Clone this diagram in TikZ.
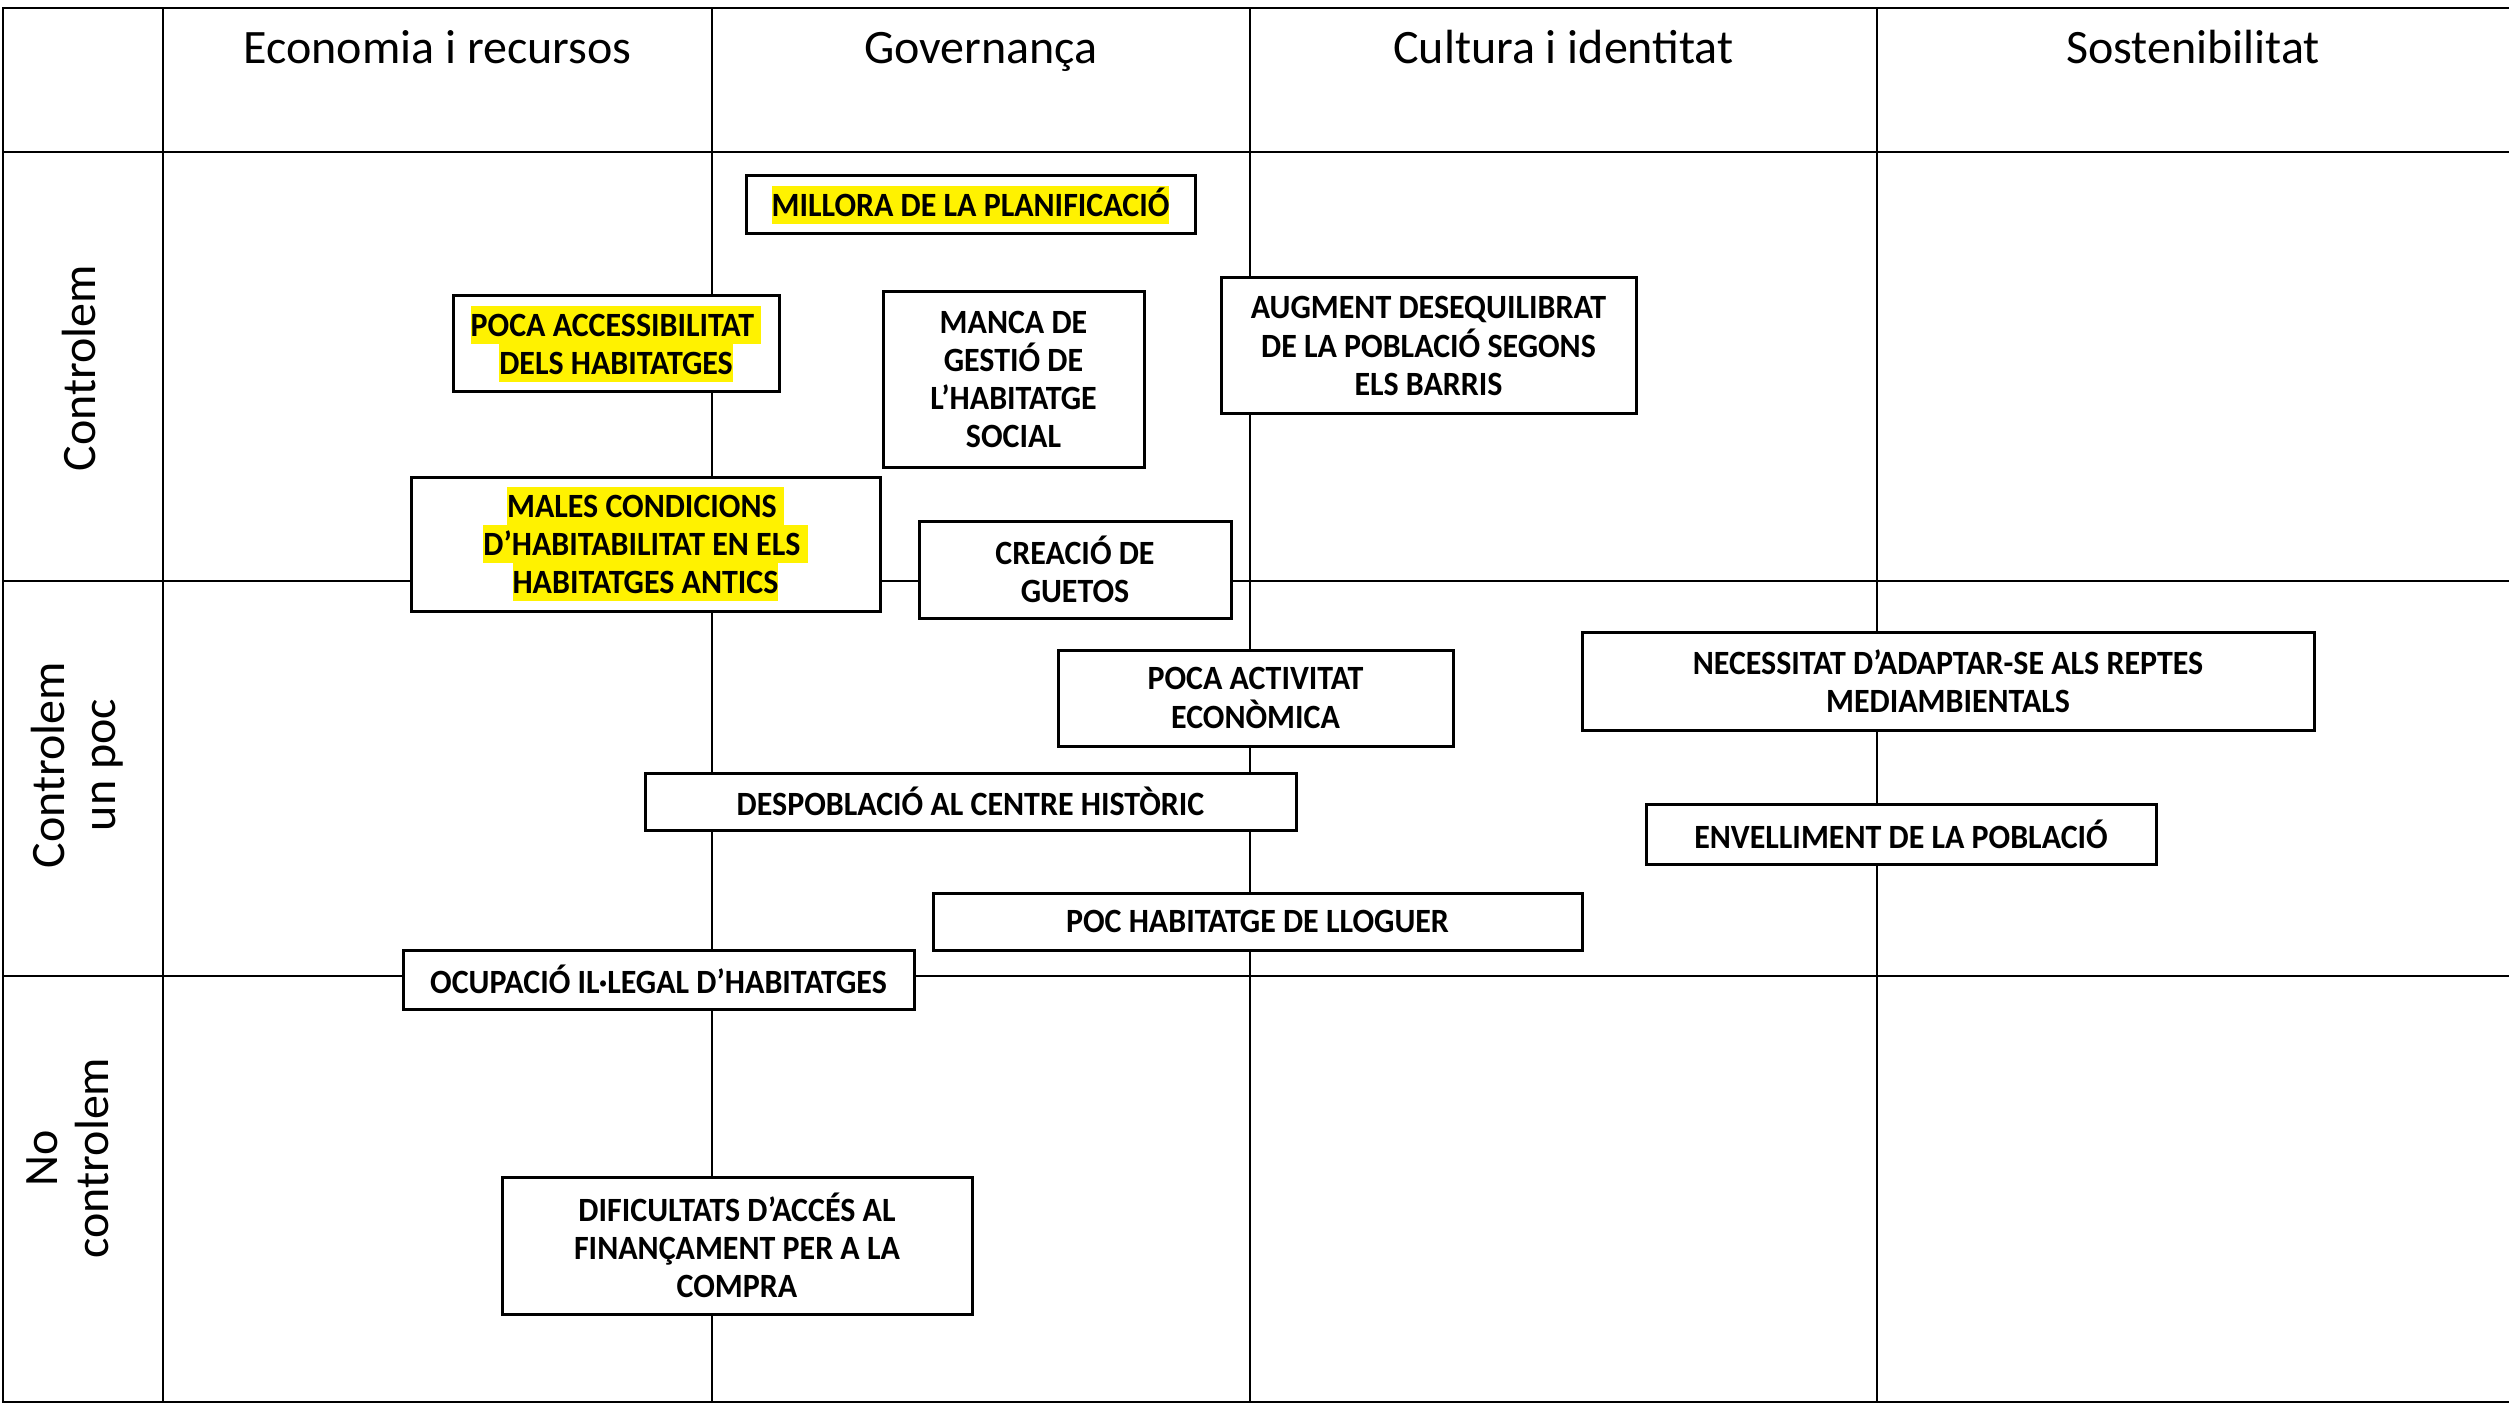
\documentclass[tikz,border=0pt]{standalone}
\usepackage{fontspec}
\setmainfont{Carlito}
\newfontfamily\issuefont{Carlito}[FakeStretch=0.94]
\newcommand\hlt[1]{{\setlength{\fboxsep}{0pt}\colorbox{yellow}{\rule[-7.8pt]{0pt}{38.3pt}#1}}}
\tikzset{
  gridline/.style={line width=2.4pt, black},
  issue/.style={draw=black, line width=3pt, fill=white, inner sep=0pt, align=center,
    font={\issuefont\fontsize{34}{38.3}\selectfont\bfseries\lineskiplimit=-3pt}},
  head/.style={font={\fontsize{48}{57}\selectfont}, anchor=base, inner sep=0pt},
  rowlab/.style={font={\fontsize{48}{51}\selectfont}, rotate=90, align=center, inner sep=0pt},
}
\begin{document}
\begin{tikzpicture}[x=1pt,y=-1pt]
\useasboundingbox (0,0) rectangle (2509,1404);
\fill[white] (0,0) rectangle (2509,1404);
% grid
\draw[gridline] (2509,8) -- (3,8) -- (3,1402) -- (2509,1402);
\draw[gridline] (3,152) -- (2509,152);
\draw[gridline] (3,581) -- (2509,581);
\draw[gridline] (3,976) -- (2509,976);
\draw[gridline] (163,8) -- (163,1402);
\draw[gridline] (712,8) -- (712,1402);
\draw[gridline] (1250,8) -- (1250,1402);
\draw[gridline] (1877,8) -- (1877,1402);
% headers
\node[head] (h1) at (437.5,64) {Economia i recursos};
\node[head] (h2) at (981,64) {Governança};
\node[head] (h3) at (1563.5,64) {Cultura i identitat};
\node[head] (h4) at (2193,64) {Sostenibilitat};
% row labels
\node[rowlab] (r1) at (79,368) {Controlem};
\node[rowlab] (r2) at (77,765) {Controlem\\un poc};
\node[rowlab] (r3) at (68,1158) {No\\controlem};
% issues
\node[issue, minimum width=449pt, minimum height=58pt] (millora) at (970.5,205) {\hlt{MILLORA DE LA PLANIFICACIÓ}};
\node[issue, minimum width=326pt, minimum height=96pt] (accessib) at (616,344) {\hlt{POCA ACCESSIBILITAT\ }\\\hlt{DELS HABITATGES}};
\node[issue, minimum width=261pt, minimum height=175pt] (manca) at (1013.5,379.5) {MANCA DE\\GESTIÓ DE\\L’HABITATGE\\SOCIAL};
\node[issue, minimum width=415pt, minimum height=136pt] (augment) at (1428.5,346) {AUGMENT DESEQUILIBRAT\\DE LA POBLACIÓ SEGONS\\ELS BARRIS};
\node[issue, minimum width=469pt, minimum height=134pt] (males) at (645.5,544) {\hlt{MALES CONDICIONS\ }\\\hlt{D’HABITABILITAT EN ELS\ }\\\hlt{HABITATGES ANTICS}};
\node[issue, minimum width=312pt, minimum height=97pt] (guetos) at (1075,569.5) {CREACIÓ DE\\GUETOS};
\node[issue, minimum width=395pt, minimum height=96pt] (activitat) at (1255.5,698) {POCA ACTIVITAT\\ECONÒMICA};
\node[issue, minimum width=732pt, minimum height=98pt] (necessitat) at (1948,681) {NECESSITAT D’ADAPTAR-SE ALS REPTES\\MEDIAMBIENTALS};
\node[issue, minimum width=651pt, minimum height=57pt] (despoblacio) at (970.5,801.5) {DESPOBLACIÓ AL CENTRE HISTÒRIC};
\node[issue, minimum width=510pt, minimum height=60pt] (envelliment) at (1901,834) {ENVELLIMENT DE LA POBLACIÓ};
\node[issue, minimum width=649pt, minimum height=57pt] (lloguer) at (1257.5,921.5) {POC HABITATGE DE LLOGUER};
\node[issue, minimum width=511pt, minimum height=59pt] (ocupacio) at (658.5,979.5) {OCUPACIÓ IL·LEGAL D’HABITATGES};
\node[issue, minimum width=470pt, minimum height=137pt] (dificultats) at (737,1245.5) {DIFICULTATS D’ACCÉS AL\\FINANÇAMENT PER A LA\\COMPRA};
\end{tikzpicture}
\end{document}
